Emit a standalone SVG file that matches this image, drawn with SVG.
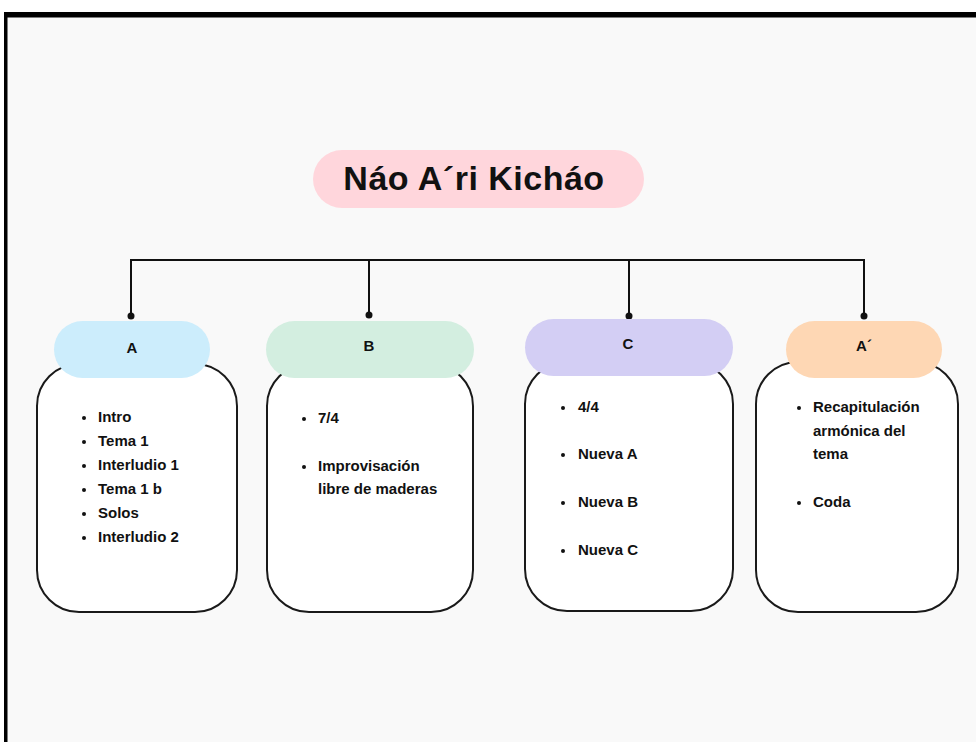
<svg xmlns="http://www.w3.org/2000/svg" width="976" height="742" viewBox="0 0 976 742">
<style>
.box{fill:#ffffff;stroke:#1a1a1a;stroke-width:2}
.lbl{font-family:"Liberation Sans",Arial,sans-serif;font-weight:700;font-size:15px;fill:#111;text-anchor:middle}
.itm{font-family:"Liberation Sans",Arial,sans-serif;font-weight:700;font-size:15px;fill:#111}
.conn{fill:none;stroke:#111;stroke-width:2}
.dot{fill:#111}
.bul{fill:#111}
</style>
<rect x="0" y="0" width="976" height="742" fill="#ffffff"/>
<rect x="4" y="12" width="980" height="740" fill="#f9f9f9"/>
<rect x="4" y="12" width="972" height="5.5" fill="#000"/>
<rect x="4" y="12" width="3.5" height="730" fill="#000"/>

<g id="title">
<rect x="313" y="150" width="331" height="58" rx="29" fill="#ffd6dc"/>
<text x="474" y="190" font-family="Liberation Sans,Arial,sans-serif" font-weight="700" font-size="34" letter-spacing="0.5" fill="#111" text-anchor="middle">Náo A´ri Kicháo</text>
</g>

<g id="connectors">
<path class="conn" d="M131 317 V260 H864 V317"/>
<path class="conn" d="M369 260 V316"/>
<path class="conn" d="M629 260 V316"/>
<circle class="dot" cx="131" cy="316" r="3.5"/>
<circle class="dot" cx="369" cy="315" r="3.5"/>
<circle class="dot" cx="629" cy="316" r="3.5"/>
<circle class="dot" cx="864" cy="316" r="3.5"/>
</g>

<g id="nodeA">
<rect class="box" x="37" y="364" width="200" height="248" rx="42"/>
<rect x="54" y="321" width="156" height="57" rx="28.5" fill="#ccedfc"/>
<text class="lbl" x="132" y="353">A</text>
<circle class="bul" cx="84" cy="418" r="2"/><text class="itm" x="98" y="422">Intro</text>
<circle class="bul" cx="84" cy="442" r="2"/><text class="itm" x="98" y="446">Tema 1</text>
<circle class="bul" cx="84" cy="466" r="2"/><text class="itm" x="98" y="470">Interludio 1</text>
<circle class="bul" cx="84" cy="490" r="2"/><text class="itm" x="98" y="494">Tema 1 b</text>
<circle class="bul" cx="84" cy="514" r="2"/><text class="itm" x="98" y="518">Solos</text>
<circle class="bul" cx="84" cy="538" r="2"/><text class="itm" x="98" y="542">Interludio 2</text>
</g>

<g id="nodeB">
<rect class="box" x="267" y="364" width="206" height="248" rx="42"/>
<rect x="266" y="321" width="208" height="57" rx="28.5" fill="#d3eee0"/>
<text class="lbl" x="369" y="351">B</text>
<circle class="bul" cx="304" cy="419" r="2"/><text class="itm" x="318" y="423">7/4</text>
<circle class="bul" cx="304" cy="467" r="2"/><text class="itm" x="318" y="471">Improvisación</text>
<text class="itm" x="318" y="494">libre de maderas</text>
</g>

<g id="nodeC">
<rect class="box" x="525" y="362" width="208" height="249" rx="42"/>
<rect x="525" y="319" width="208" height="57" rx="28.5" fill="#d3cef4"/>
<text class="lbl" x="628" y="349">C</text>
<circle class="bul" cx="563" cy="408" r="2"/><text class="itm" x="578" y="412">4/4</text>
<circle class="bul" cx="563" cy="455" r="2"/><text class="itm" x="578" y="459">Nueva A</text>
<circle class="bul" cx="563" cy="503" r="2"/><text class="itm" x="578" y="507">Nueva B</text>
<circle class="bul" cx="563" cy="551" r="2"/><text class="itm" x="578" y="555">Nueva C</text>
</g>

<g id="nodeA2">
<rect class="box" x="756" y="362" width="202" height="250" rx="42"/>
<rect x="786" y="321" width="156" height="57" rx="28.5" fill="#fed7b4"/>
<text class="lbl" x="864" y="351">A´</text>
<circle class="bul" cx="799" cy="408" r="2"/><text class="itm" x="813" y="412">Recapitulación</text>
<text class="itm" x="813" y="436">armónica del</text>
<text class="itm" x="813" y="459">tema</text>
<circle class="bul" cx="799" cy="503" r="2"/><text class="itm" x="813" y="507">Coda</text>
</g>
</svg>
